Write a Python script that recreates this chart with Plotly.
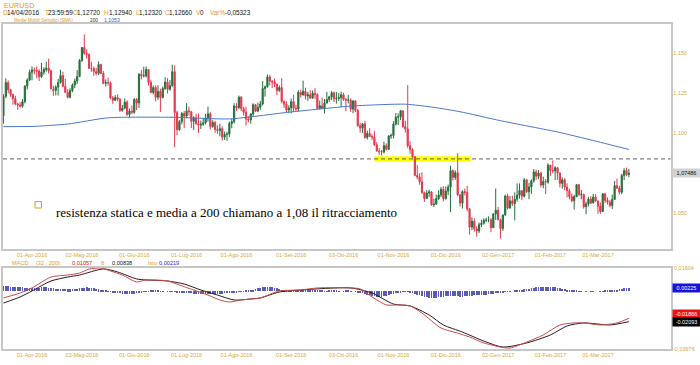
import plotly.graph_objects as go
import pandas as pd

# ---------------- DATA ----------------
dates = pd.bdate_range("2016-03-16", "2017-03-20")

open_ = [
    1.1108,1.1230,1.1315,1.1270,1.1240,1.1215,1.1182,1.1175,1.1167,1.1196,1.1293,1.1332,
    1.1379,1.1394,1.1391,1.1387,1.1351,1.1380,1.1397,1.1405,1.1389,1.1272,1.1266,1.1287,1.1316,1.1360,1.1292,1.1254,1.1223,1.1265,1.1300,1.1325,1.1353,
    1.1454,1.1534,1.1497,1.1492,1.1404,1.1403,1.1383,1.1373,1.1428,1.1372,1.1310,1.1316,1.1314,1.1219,1.1205,1.1222,1.1211,1.1141,1.1155,1.1193,1.1115,1.1137,
    1.1129,1.1210,1.1188,1.1367,1.1356,1.1358,1.1397,1.1316,1.1253,1.1284,1.1223,1.1260,1.1222,1.1278,1.1318,1.1273,1.1296,1.1383,1.1127,1.1021,1.1071,1.1122,
    1.1105,1.1139,1.1133,1.1073,1.1094,1.1058,1.1050,1.1055,1.1064,1.1092,1.1120,1.1040,1.1066,1.1022,1.1015,1.1027,1.0974,1.0991,1.0993,1.1059,1.1071,
    1.1169,1.1159,1.1224,1.1152,1.1129,1.1087,1.1082,1.1119,1.1177,1.1137,1.1160,1.1181,1.1278,1.1289,1.1351,1.1325,1.1320,1.1306,1.1265,1.1284,1.1198,1.1180,1.1144,
    1.1157,1.1196,1.1155,1.1150,1.1255,1.1239,1.1261,1.1232,1.1239,1.1218,1.1249,1.1240,1.1154,1.1170,1.1154,1.1187,1.1210,1.1226,1.1251,1.1214,1.1215,1.1222,
    1.1239,1.1210,1.1205,1.1207,1.1150,1.1201,1.1141,1.1046,1.1030,1.1058,1.0972,1.0998,1.0978,1.0974,1.0927,1.0887,1.0883,1.0881,1.0921,1.0898,1.0981,
    1.0984,1.1056,1.1099,1.1101,1.1139,1.1040,1.1025,1.0920,1.0896,1.0852,1.0735,1.0725,1.0695,1.0627,1.0590,1.0625,1.0632,1.0552,1.0555,1.0590,1.0613,1.0648,
    1.0590,1.0637,1.0662,1.0765,1.0722,1.0752,1.0614,1.0562,1.0634,1.0628,1.0526,1.0412,1.0449,1.0401,1.0388,1.0427,1.0436,1.0455,1.0456,1.0456,1.0408,1.0494,
    1.0517,1.0458,1.0403,1.0487,1.0606,1.0532,1.0576,1.0558,1.0586,1.0612,1.0640,1.0605,1.0707,1.0633,1.0663,1.0701,1.0757,1.0730,1.0749,1.0675,1.0697,1.0694,
    1.0799,1.0766,1.0763,1.0783,1.0749,1.0685,1.0708,1.0662,1.0639,1.0602,1.0577,1.0603,1.0677,1.0616,1.0617,1.0539,1.0557,1.0587,1.0563,1.0600,
    1.0575,1.0543,1.0509,1.0620,1.0579,1.0568,1.0547,1.0585,1.0671,1.0656,1.0630,1.0735,1.0765,1.0740,
]
high = [
    1.1242,1.1342,1.1328,1.1276,1.1246,1.1233,1.1188,1.1193,1.1212,1.1298,1.1342,1.1396,
    1.1416,1.1409,1.1415,1.1398,1.1438,1.1411,1.1445,1.1465,1.1396,1.1294,1.1298,1.1338,1.1395,1.1383,1.1339,1.1274,1.1280,1.1310,1.1340,1.1393,1.1462,
    1.1536,1.1616,1.1523,1.1496,1.1445,1.1415,1.1407,1.1447,1.1433,1.1388,1.1335,1.1346,1.1322,1.1231,1.1237,1.1242,1.1218,1.1175,1.1216,1.1204,1.1153,1.1171,
    1.1218,1.1218,1.1374,1.1394,1.1415,1.1416,1.1398,1.1333,1.1297,1.1298,1.1298,1.1277,1.1290,1.1348,1.1343,1.1330,1.1427,1.1423,1.1140,1.1081,1.1131,1.1138,
    1.1186,1.1165,1.1139,1.1105,1.1120,1.1121,1.1078,1.1094,1.1120,1.1165,1.1130,1.1080,1.1076,1.1048,1.1058,1.1042,1.1009,1.1008,1.1072,1.1088,1.1186,
    1.1187,1.1234,1.1230,1.1164,1.1164,1.1104,1.1125,1.1186,1.1180,1.1190,1.1200,1.1324,1.1296,1.1366,1.1363,1.1330,1.1341,1.1309,1.1298,1.1342,1.1203,1.1198,1.1173,
    1.1215,1.1240,1.1175,1.1268,1.1271,1.1327,1.1283,1.1256,1.1268,1.1266,1.1280,1.1247,1.1203,1.1221,1.1212,1.1257,1.1233,1.1263,1.1259,1.1256,1.1249,1.1259,
    1.1252,1.1219,1.1239,1.1216,1.1202,1.1203,1.1150,1.1063,1.1060,1.1076,1.1015,1.1029,1.0993,1.1014,1.0944,1.0906,1.0894,1.0947,1.0935,1.0987,1.0996,
    1.1074,1.1125,1.1123,1.1143,1.1140,1.1077,1.1299,1.0948,1.0905,1.0854,1.0800,1.0749,1.0755,1.0634,1.0643,1.0646,1.0637,1.0589,1.0615,1.0642,1.0663,1.0668,
    1.0666,1.0678,1.0795,1.0772,1.0767,1.0874,1.0617,1.0642,1.0652,1.0669,1.0529,1.0473,1.0468,1.0418,1.0441,1.0458,1.0466,1.0470,1.0479,1.0470,1.0498,1.0653,
    1.0538,1.0464,1.0492,1.0615,1.0622,1.0607,1.0608,1.0629,1.0685,1.0685,1.0641,1.0719,1.0713,1.0688,1.0710,1.0775,1.0771,1.0769,1.0759,1.0727,1.0712,1.0811,
    1.0800,1.0829,1.0792,1.0785,1.0754,1.0722,1.0718,1.0685,1.0652,1.0621,1.0614,1.0680,1.0679,1.0644,1.0620,1.0571,1.0601,1.0605,1.0620,1.0618,
    1.0578,1.0566,1.0623,1.0626,1.0597,1.0580,1.0615,1.0700,1.0715,1.0670,1.0745,1.0780,1.0783,1.0776,
]
low = [
    1.1058,1.1218,1.1247,1.1226,1.1177,1.1174,1.1144,1.1160,1.1158,1.1185,1.1272,1.1325,
    1.1329,1.1367,1.1342,1.1325,1.1345,1.1364,1.1383,1.1372,1.1276,1.1232,1.1235,1.1234,1.1309,1.1286,1.1248,1.1216,1.1217,1.1255,1.1281,1.1305,1.1350,
    1.1444,1.1489,1.1465,1.1402,1.1383,1.1358,1.1360,1.1362,1.1370,1.1305,1.1290,1.1296,1.1211,1.1182,1.1200,1.1197,1.1131,1.1133,1.1148,1.1108,1.1100,1.1117,
    1.1120,1.1143,1.1157,1.1335,1.1348,1.1347,1.1297,1.1249,1.1241,1.1198,1.1207,1.1132,1.1216,1.1270,1.1247,1.1265,1.1290,1.0912,1.0986,1.1013,1.1054,1.1030,
    1.1093,1.1109,1.1031,1.1018,1.1052,1.0999,1.1025,1.1043,1.1053,1.1070,1.1023,1.1033,1.1001,1.0995,1.0980,1.0953,1.0956,1.0951,1.0974,1.1030,1.1059,
    1.1138,1.1149,1.1137,1.1110,1.1046,1.1066,1.1059,1.1099,1.1131,1.1130,1.1144,1.1172,1.1227,1.1283,1.1297,1.1282,1.1287,1.1236,1.1258,1.1185,1.1157,1.1131,1.1124,
    1.1123,1.1132,1.1137,1.1134,1.1222,1.1233,1.1209,1.1201,1.1214,1.1214,1.1213,1.1148,1.1147,1.1151,1.1122,1.1185,1.1194,1.1205,1.1194,1.1184,1.1200,1.1161,
    1.1201,1.1136,1.1185,1.1132,1.1124,1.1130,1.1039,1.1002,1.1000,1.0965,1.0959,1.0977,1.0955,1.0919,1.0884,1.0862,1.0859,1.0873,1.0890,1.0895,1.0963,
    1.0966,1.1046,1.1049,1.1081,1.1033,1.1002,1.0905,1.0870,1.0842,1.0730,1.0710,1.0677,1.0620,1.0569,1.0587,1.0600,1.0545,1.0538,1.0553,1.0580,1.0600,1.0572,
    1.0583,1.0612,1.0505,1.0703,1.0707,1.0605,1.0540,1.0528,1.0610,1.0511,1.0366,1.0392,1.0383,1.0352,1.0375,1.0412,1.0427,1.0443,1.0442,1.0381,1.0406,1.0456,
    1.0455,1.0340,1.0388,1.0484,1.0521,1.0526,1.0544,1.0454,1.0571,1.0590,1.0581,1.0597,1.0626,1.0586,1.0620,1.0690,1.0708,1.0713,1.0660,1.0655,1.0618,1.0683,
    1.0732,1.0748,1.0706,1.0708,1.0660,1.0652,1.0642,1.0598,1.0585,1.0568,1.0521,1.0598,1.0605,1.0586,1.0527,1.0493,1.0541,1.0556,1.0560,1.0570,
    1.0495,1.0495,1.0507,1.0563,1.0553,1.0536,1.0525,1.0581,1.0650,1.0615,1.0618,1.0706,1.0730,1.0723,
]
close = [
    1.1230,1.1315,1.1270,1.1240,1.1215,1.1182,1.1175,1.1167,1.1196,1.1293,1.1332,1.1379,
    1.1394,1.1391,1.1387,1.1351,1.1380,1.1397,1.1405,1.1389,1.1276,1.1266,1.1287,1.1316,1.1360,1.1292,1.1254,1.1223,1.1265,1.1300,1.1325,1.1353,1.1454,
    1.1534,1.1497,1.1492,1.1404,1.1403,1.1383,1.1373,1.1428,1.1372,1.1310,1.1316,1.1314,1.1219,1.1205,1.1222,1.1211,1.1141,1.1155,1.1193,1.1115,1.1137,1.1129,
    1.1210,1.1188,1.1367,1.1356,1.1358,1.1397,1.1316,1.1253,1.1284,1.1223,1.1260,1.1222,1.1278,1.1318,1.1273,1.1296,1.1383,1.1127,1.1021,1.1071,1.1122,1.1105,
    1.1139,1.1133,1.1073,1.1094,1.1058,1.1050,1.1055,1.1064,1.1092,1.1120,1.1040,1.1066,1.1022,1.1015,1.1027,1.0974,1.0991,1.0993,1.1059,1.1071,1.1169,
    1.1159,1.1224,1.1152,1.1129,1.1087,1.1082,1.1119,1.1177,1.1137,1.1160,1.1181,1.1278,1.1289,1.1351,1.1325,1.1320,1.1306,1.1265,1.1284,1.1198,1.1180,1.1144,1.1157,
    1.1196,1.1155,1.1150,1.1255,1.1239,1.1261,1.1232,1.1239,1.1218,1.1249,1.1240,1.1154,1.1170,1.1154,1.1187,1.1210,1.1226,1.1251,1.1214,1.1215,1.1222,1.1239,
    1.1210,1.1205,1.1207,1.1150,1.1201,1.1141,1.1046,1.1030,1.1058,1.0972,1.0998,1.0978,1.0974,1.0927,1.0887,1.0883,1.0881,1.0921,1.0898,1.0981,1.0984,
    1.1056,1.1099,1.1101,1.1139,1.1040,1.1025,1.0920,1.0896,1.0852,1.0735,1.0725,1.0695,1.0627,1.0590,1.0625,1.0632,1.0552,1.0555,1.0590,1.0613,1.0648,1.0590,
    1.0637,1.0662,1.0765,1.0722,1.0752,1.0614,1.0562,1.0634,1.0628,1.0526,1.0412,1.0449,1.0401,1.0388,1.0427,1.0436,1.0455,1.0456,1.0456,1.0408,1.0494,1.0517,
    1.0458,1.0403,1.0487,1.0606,1.0532,1.0576,1.0558,1.0586,1.0612,1.0640,1.0605,1.0707,1.0633,1.0663,1.0701,1.0757,1.0730,1.0749,1.0675,1.0697,1.0694,1.0799,
    1.0766,1.0763,1.0783,1.0749,1.0685,1.0708,1.0662,1.0639,1.0602,1.0577,1.0603,1.0677,1.0616,1.0617,1.0539,1.0557,1.0587,1.0563,1.0600,1.0575,
    1.0543,1.0509,1.0620,1.0579,1.0568,1.0547,1.0585,1.0671,1.0656,1.0630,1.0735,1.0765,1.0740,1.07486,
]

# 200-day simple moving average (sampled along the line)
sma_idx = [0, 12, 27, 44, 72, 95, 120, 146, 169, 181, 192, 209, 234, 251, 263]
sma_val = [1.1040, 1.1041, 1.1056, 1.1095, 1.1098, 1.1088, 1.1130, 1.1168, 1.1180, 1.1160, 1.1133, 1.1077, 1.1003, 1.0942, 1.0897]

# MACD (32, 200, 8)
macd_idx = [0,7,12,20,27,32,36,41,45,50,56,60,69,74,80,86,91,95,100,104,108,116,125,132,146,150,155,161,166,171,
            176,184,191,196,202,209,213,220,227,234,240,244,251,258,263]
macd_val = [-0.0046,-0.0012,0.0023,0.0098,0.0112,0.0126,0.0153,0.0160,0.0140,0.0112,0.0064,0.0078,0.0071,0.0043,0.0009,
            -0.0026,-0.0060,-0.0074,-0.0060,-0.0053,-0.0046,0.0002,0.0009,0.0023,0.0023,0.0016,-0.0039,-0.0094,-0.0094,-0.0101,
            -0.0150,-0.0253,-0.0288,-0.0315,-0.0356,-0.0384,-0.0391,-0.0350,-0.0301,-0.0232,-0.0218,-0.0218,-0.0232,-0.0218,-0.01866]
sig_idx = [0,7,12,20,27,32,42,48,56,60,69,76,83,90,97,104,108,116,125,146,155,164,171,179,185,193,202,210,220,230,
           237,244,255,263]
sig_val = [-0.0081,-0.0039,0.0002,0.0071,0.0098,0.0112,0.0154,0.0133,0.0085,0.0078,0.0071,0.0050,0.0009,-0.0026,-0.0060,
           -0.0053,-0.0046,-0.0005,0.0009,0.0023,-0.0012,-0.0088,-0.0101,-0.0163,-0.0232,-0.0281,-0.0343,-0.0384,-0.0356,-0.0301,
           -0.0239,-0.0218,-0.0232,-0.02093]
hist = [
    0.0035,0.0034,0.0033,0.0032,0.0031,0.0030,0.0029,0.0028,0.0027,0.0026,0.0025,0.0024,0.0023,0.0024,0.0025,0.0026,0.0027,0.0028,0.0027,0.0025,
    0.0022,0.0021,0.0019,0.0017,0.0016,0.0015,0.0014,0.0013,0.0013,0.0014,0.0016,0.0018,0.0021,
    0.0024,0.0026,0.0027,0.0026,0.0024,0.0021,0.0017,0.0013,0.0009,
    0.0006,0.0003,0.0001,-0.0002,-0.0005,
    -0.0008,-0.0011,-0.0014,-0.0016,-0.0018,-0.0019,-0.0019,-0.0018,-0.0016,-0.0013,-0.0009,
    -0.0006,-0.0003,-0.0001,0.0001,0.0002,0.0003,0.0002,0.0002,0.0001,0.0001,0.0000,-0.0001,-0.0002,-0.0003,-0.0004,
    -0.0006,-0.0008,-0.0010,-0.0012,-0.0013,-0.0014,-0.0015,-0.0016,-0.0017,-0.0018,-0.0019,-0.0019,-0.0020,-0.0020,-0.0020,-0.0019,-0.0019,-0.0018,-0.0017,-0.0016,-0.0015,-0.0013,-0.0011,-0.0009,-0.0007,-0.0005,-0.0003,
    -0.0001,0.0001,0.0003,0.0005,0.0008,0.0012,0.0016,0.0020,
    0.0024,0.0027,0.0029,0.0030,0.0029,0.0027,0.0024,0.0020,0.0016,0.0012,0.0008,
    0.0006,0.0005,0.0004,0.0004,0.0003,0.0003,0.0004,0.0005,0.0005,0.0004,0.0003,0.0002,0.0002,0.0003,0.0003,0.0002,0.0001,0.0001,0.0002,0.0003,0.0003,0.0002,0.0001,0.0000,0.0001,0.0002,0.0002,0.0001,0.0000,-0.0002,-0.0005,-0.0009,
    -0.0013,-0.0018,-0.0023,-0.0027,-0.0031,-0.0034,-0.0036,-0.0037,-0.0036,-0.0034,-0.0031,-0.0027,-0.0022,-0.0017,-0.0012,
    -0.0008,-0.0005,-0.0003,-0.0002,-0.0003,
    -0.0006,-0.0011,-0.0017,-0.0023,-0.0029,-0.0034,-0.0038,-0.0041,-0.0043,-0.0044,-0.0044,-0.0043,-0.0041,-0.0039,-0.0037,-0.0035,-0.0034,-0.0033,-0.0033,-0.0034,-0.0035,-0.0036,-0.0036,-0.0035,-0.0034,-0.0032,-0.0030,-0.0029,-0.0028,-0.0028,-0.0027,-0.0026,-0.0024,-0.0022,-0.0020,-0.0017,-0.0014,-0.0011,-0.0008,-0.0006,-0.0004,-0.0002,-0.0001,0.0000,
    0.0002,0.0004,0.0007,0.0010,0.0013,0.0016,
    0.0019,0.0022,0.0025,0.0027,0.0029,0.0030,0.0031,0.0031,0.0031,0.0030,0.0029,0.0027,0.0025,0.0022,0.0019,0.0016,0.0012,0.0009,
    0.0006,0.0004,0.0002,0.0001,0.0001,0.0000,-0.0001,0.0000,0.0001,0.0001,0.0000,0.0000,0.0001,0.0001,0.0002,0.0002,0.0003,0.0004,
    0.0008,0.0012,0.0015,0.0018,0.0021,0.0023,0.00225,
]

tick_dates = ["2016-04-01","2016-05-02","2016-06-01","2016-07-01","2016-08-01","2016-09-01",
              "2016-10-03","2016-11-01","2016-12-01","2017-01-02","2017-02-01","2017-03-01"]
tick_text = ["01-Apr-2016","02-Mag-2016","01-Giu-2016","01-Lug-2016","01-Ago-2016","01-Set-2016",
             "03-Ott-2016","01-Nov-2016","01-Dic-2016","02-Gen-2017","01-Feb-2017","01-Mar-2017"]
price_ticks = [1.150, 1.125, 1.100, 1.050]
price_tick_text = ["1.150", "1.125", "1.100", "1.050"]
resistance = 1.0838
last_price = 1.07486
macd_last, sig_last, hist_last = -0.01866, -0.02093, 0.00225

n = len(close)
assert len(open_) == len(high) == len(low) == n == len(dates) == len(hist), \
    (len(open_), len(high), len(low), n, len(dates), len(hist))
assert len(macd_idx) == len(macd_val) and len(sig_idx) == len(sig_val) and len(sma_idx) == len(sma_val)

# ---------------- FIGURE ----------------
W, H = 700, 365
def px(x): return x / W
def py(y): return 1 - y / H

idx = list(range(n))
pos = {d.strftime("%Y-%m-%d"): i for i, d in enumerate(dates)}
tickvals = [pos[d] for d in tick_dates]

UP, DN = "#23703a", "#e23a4e"
TICK = "#d6a83c"
ORANGE = "#e39a2c"
FONT = "Liberation Sans, Arial, sans-serif"
XR = [-0.19, 280.5]

fig = go.Figure()
fig.add_trace(go.Candlestick(
    x=idx, open=open_, high=high, low=low, close=close,
    increasing=dict(line=dict(color=UP, width=1), fillcolor=UP),
    decreasing=dict(line=dict(color=DN, width=1), fillcolor=DN),
    whiskerwidth=0, xaxis="x", yaxis="y", showlegend=False, hoverinfo="skip"))
fig.add_trace(go.Scatter(x=sma_idx, y=sma_val, mode="lines",
                         line=dict(color="#4a76c9", width=1, shape="spline", smoothing=0.6),
                         xaxis="x", yaxis="y", showlegend=False, hoverinfo="skip"))
fig.add_trace(go.Bar(x=idx, y=hist, marker=dict(color="#5a5ab8", line=dict(width=0)), width=0.3,
                     xaxis="x2", yaxis="y2", showlegend=False, hoverinfo="skip"))
fig.add_trace(go.Scatter(x=sig_idx, y=sig_val, mode="lines",
                         line=dict(color="#2b1818", width=1, shape="spline", smoothing=0.7),
                         xaxis="x2", yaxis="y2", showlegend=False, hoverinfo="skip"))
fig.add_trace(go.Scatter(x=macd_idx, y=macd_val, mode="lines",
                         line=dict(color="#c84a4a", width=1, shape="spline", smoothing=0.7),
                         xaxis="x2", yaxis="y2", showlegend=False, hoverinfo="skip"))

ax = dict(showgrid=False, zeroline=False, showline=True, mirror=True, linecolor="#c6c6c6",
          linewidth=1.5, ticks="", fixedrange=True, automargin=False)

fig.update_layout(
    width=W, height=H, margin=dict(l=0, r=0, t=0, b=0),
    paper_bgcolor="white", plot_bgcolor="white", hovermode=False, bargap=0,
    font=dict(family=FONT, size=6, color="#222"),
    xaxis=dict(domain=[px(3), px(670.5)], range=XR, tickvals=tickvals, ticktext=tick_text,
               tickfont=dict(size=5.5, color=TICK), anchor="y", rangeslider=dict(visible=False), **ax),
    xaxis2=dict(domain=[px(3), px(670.5)], range=XR, tickvals=tickvals, ticktext=tick_text,
                tickfont=dict(size=5.5, color=TICK), anchor="y2", **ax),
    yaxis=dict(domain=[py(249), py(24)], range=[1.0275, 1.168125], side="right", anchor="x",
               tickvals=price_ticks, ticktext=price_tick_text, tickfont=dict(size=5.5, color=TICK), **ax),
    yaxis2=dict(domain=[py(349), py(268)], range=[-0.03976, 0.01604], side="right", anchor="x2",
                showticklabels=False, **ax),
)

shapes = [
    dict(type="rect", xref="x", yref="y", x0=156, x1=196.5, y0=1.0822, y1=1.0855,
         fillcolor="#ffff00", line=dict(width=0), layer="below"),
    dict(type="line", xref="x domain", yref="y", x0=0, x1=1, y0=resistance, y1=resistance,
         line=dict(color="#606060", width=1, dash="4px,3px")),
    dict(type="rect", xref="paper", yref="paper", x0=px(35), x1=px(41.5), y0=py(208), y1=py(201.5),
         line=dict(color="#e0a020", width=1), fillcolor="rgba(0,0,0,0)"),
]
fig.update_layout(shapes=shapes)

anns = []
def txt(t, x, y, color, size=6, family=FONT, **kw):
    anns.append(dict(text=t, x=px(x), y=py(y), xref="paper", yref="paper", xanchor="left",
                     yanchor="middle", showarrow=False, font=dict(size=size, color=color, family=family), **kw))

# header
txt("EURUSD", 2, 5, ORANGE, 7.2)
row2 = [("D", 1, ORANGE), ("14/04/2016", 4.5, "#111"), ("T", 42.5, ORANGE), ("23:59:59", 46, "#111"),
        ("O", 71, ORANGE), ("1,12720", 75, "#111"), ("H", 102, ORANGE), ("1,12940", 106.5, "#111"),
        ("L", 133.5, ORANGE), ("1,12320", 137, "#111"), ("C", 162.5, ORANGE), ("1,12660", 166.5, "#111"),
        ("V", 194, ORANGE), ("0", 198, "#111"), ("Var%", 208, ORANGE), ("-0,05323", 223, "#111")]
for t, x, c in row2:
    txt(t, x, 12.5, c, 6.4)
txt("Medie Mobili Semplici (SMA)", 12, 20, ORANGE, 4.6)
txt("200", 88, 20, "#333", 4.8)
txt("1,1053", 102, 20, "#3a66c8", 5.2)

# MACD legend
row_m = [("MACD", 10, ORANGE), ("(32 , 200):", 34, ORANGE), ("0,01057", 70, "#d02020"), ("8", 99, ORANGE),
         ("0,00838", 110, "#111"), ("Isto", 146, ORANGE), ("0,00219", 157, "#2828c8")]
for t, x, c in row_m:
    txt(t, x, 262.5, c, 5.6)

# comment text
txt("resistenza statica e media a 200 chiamano a 1,08 il ritracciamento", 54, 212.5, "#000", 13,
    family="Liberation Serif, Times New Roman, serif")

# right-side value boxes
def box(t, y, yref, bg, fg):
    anns.append(dict(text=t, x=px(671.5), y=y, xref="paper", yref=yref, xanchor="left", yanchor="middle",
                     showarrow=False, bgcolor=bg, width=27, height=8, borderpad=0, align="center",
                     font=dict(size=5.5, color=fg, family=FONT)))
box("1,07486", last_price, "y", "#d2d2d2", "#111")
box("0.00225", hist_last, "y2", "#1414e0", "#ffffff")
box("-0.01866", macd_last + 0.0030, "y2", "#e81414", "#ffffff")
box("-0.02093", sig_last - 0.0003, "y2", "#000000", "#ffffff")
txt("0,01604", 672, 268, TICK, 5.5)
txt("-0,03976", 671, 349, TICK, 5.5)

fig.update_layout(annotations=anns)
fig.write_html("out.html")
